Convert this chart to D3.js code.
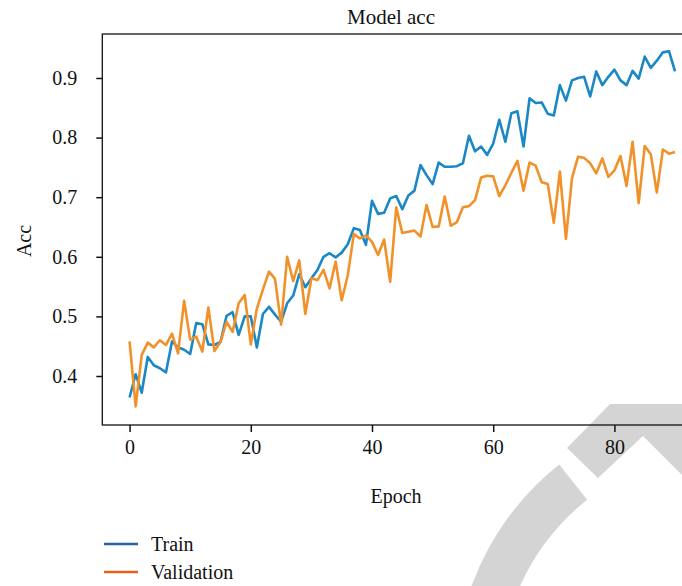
<!DOCTYPE html>
<html>
<head>
<meta charset="utf-8">
<script src="https://cdn.jsdelivr.net/npm/d3@7"></script>
<style>
  body { margin: 0; background: #fff; }
  svg { display: block; }
  svg text { font-family: "Liberation Serif", "DejaVu Serif", serif; fill: #111; }
</style>
</head>
<body>
<div id="chart"></div>
<script>
// accuracy per epoch
const trainAcc = [
  0.364, 0.403, 0.372, 0.432, 0.418, 0.413, 0.406, 0.458, 0.448, 0.444,
  0.437, 0.489, 0.487, 0.453, 0.452, 0.457, 0.501, 0.507, 0.469, 0.500,
  0.500, 0.448, 0.504, 0.516, 0.503, 0.491, 0.522, 0.535, 0.571, 0.549,
  0.564, 0.578, 0.600, 0.606, 0.599, 0.607, 0.621, 0.648, 0.645, 0.620,
  0.694, 0.672, 0.674, 0.698, 0.702, 0.680, 0.703, 0.711, 0.754, 0.737,
  0.722, 0.758, 0.751, 0.751, 0.752, 0.757, 0.803, 0.777, 0.785, 0.771,
  0.790, 0.830, 0.793, 0.841, 0.844, 0.785, 0.866, 0.858, 0.859, 0.840,
  0.837, 0.888, 0.862, 0.896, 0.900, 0.902, 0.869, 0.911, 0.888, 0.902,
  0.914, 0.896, 0.888, 0.912, 0.899, 0.936, 0.917, 0.929, 0.943, 0.945,
  0.911
];
const valAcc = [
  0.458, 0.349, 0.435, 0.456, 0.448, 0.460, 0.452, 0.471, 0.438, 0.526,
  0.461, 0.466, 0.441, 0.515, 0.442, 0.457, 0.491, 0.474, 0.522, 0.536,
  0.453, 0.513, 0.545, 0.575, 0.563, 0.486, 0.600, 0.559, 0.594, 0.504,
  0.564, 0.561, 0.578, 0.547, 0.592, 0.527, 0.569, 0.638, 0.631, 0.636,
  0.625, 0.603, 0.629, 0.558, 0.683, 0.640, 0.642, 0.644, 0.634, 0.687,
  0.650, 0.651, 0.701, 0.652, 0.658, 0.683, 0.685, 0.695, 0.733, 0.736,
  0.735, 0.702, 0.720, 0.741, 0.761, 0.711, 0.758, 0.753, 0.725, 0.722,
  0.657, 0.743, 0.630, 0.732, 0.768, 0.766, 0.757, 0.740, 0.765, 0.734,
  0.745, 0.769, 0.719, 0.793, 0.690, 0.786, 0.772, 0.708, 0.780, 0.773,
  0.776
];
const epochs = trainAcc.map((d, i) => i);
const xTicks = [0, 20, 40, 60, 80];
const yTicks = [0.4, 0.5, 0.6, 0.7, 0.8, 0.9];
const seriesNames = ["Train", "Validation"];

const svgWidth = 682;
const svgHeight = 586;
const plotLeft = 102.3;
const plotRight = 702.3;   // the figure is cut off on the right
const plotTop = 34;
const plotBottom = 425;
const serif = '"Liberation Serif", "DejaVu Serif", serif';

const lineColors = ["#1b88c6", "#f0912a"];
const legendColors = ["#2e5da6", "#e2611c"];

const svg = d3.select("#chart")
    .append("svg")
    .attr("width", svgWidth)
    .attr("height", svgHeight);

// grey publisher watermark behind everything
const mark = svg.append("g").attr("fill", "#d4d4d4");
mark.append("path")
    .attr("transform", "translate(730,680)")
    .attr("d", d3.arc()({innerRadius: 230, outerRadius: 275, startAngle: -1.75, endAngle: -0.67}));
mark.append("polygon")
    .attr("points", "567,448 610,404 682,404 682,475 643,436 598,478");

const scaleX = d3.scaleLinear()
    .domain([-4.5, 94.5])
    .range([plotLeft, plotRight]);
const scaleY = d3.scaleLinear()
    .domain([0.3178, 0.9738])
    .range([plotBottom, plotTop]);

const xAxis = d3.axisBottom(scaleX)
    .tickValues(xTicks)
    .tickSize(7)
    .tickPadding(8)
    .tickSizeOuter(0);
const yAxis = d3.axisLeft(scaleY)
    .tickValues(yTicks)
    .tickFormat(d3.format(".1f"))
    .tickSize(6)
    .tickPadding(19)
    .tickSizeOuter(0);

const line = d3.line()
    .x((d, i) => scaleX(epochs[i]))
    .y(d => scaleY(d));

const plot = svg.append("g");

plot.selectAll("path.series")
    .data([trainAcc, valAcc])
    .enter()
    .append("path")
    .attr("class", "series")
    .attr("d", line)
    .attr("fill", "none")
    .attr("stroke", (d, i) => lineColors[i])
    .attr("stroke-width", 2.6)
    .attr("stroke-linejoin", "round");

// frame
plot.append("rect")
    .attr("x", plotLeft)
    .attr("y", plotTop)
    .attr("width", plotRight - plotLeft)
    .attr("height", plotBottom - plotTop)
    .attr("fill", "none")
    .attr("stroke", "#111")
    .attr("stroke-width", 1.3);

const gx = svg.append("g")
    .attr("transform", `translate(0,${plotBottom})`)
    .call(xAxis);
const gy = svg.append("g")
    .attr("transform", `translate(${plotLeft},0)`)
    .call(yAxis);

[gx, gy].forEach(g => {
    g.attr("font-family", serif).attr("font-size", 20);
    g.select(".domain").remove();
    g.selectAll(".tick line").attr("stroke", "#111").attr("stroke-width", 1.5);
    g.selectAll(".tick text")
        .attr("fill", "#111")
        .attr("font-family", serif)
        .attr("font-size", 20);
});

svg.append("text")
    .attr("x", 391)
    .attr("y", 24)
    .attr("text-anchor", "middle")
    .attr("font-size", 21)
    .text("Model acc");

svg.append("text")
    .attr("x", 396)
    .attr("y", 503)
    .attr("text-anchor", "middle")
    .attr("font-size", 20)
    .text("Epoch");

svg.append("text")
    .attr("transform", "rotate(-90)")
    .attr("x", -241)
    .attr("y", 31)
    .attr("text-anchor", "middle")
    .attr("font-size", 20)
    .text("Acc");

const legend = svg.append("g")
    .selectAll("g")
    .data(seriesNames)
    .enter()
    .append("g")
    .attr("transform", (d, i) => `translate(104,${544 + i * 28})`);

legend.append("line")
    .attr("x1", 0)
    .attr("x2", 34)
    .attr("stroke", (d, i) => legendColors[i])
    .attr("stroke-width", 2.4);

legend.append("text")
    .attr("x", 47)
    .attr("y", 7)
    .attr("font-size", 20)
    .text(d => d);
</script>
</body>
</html>
